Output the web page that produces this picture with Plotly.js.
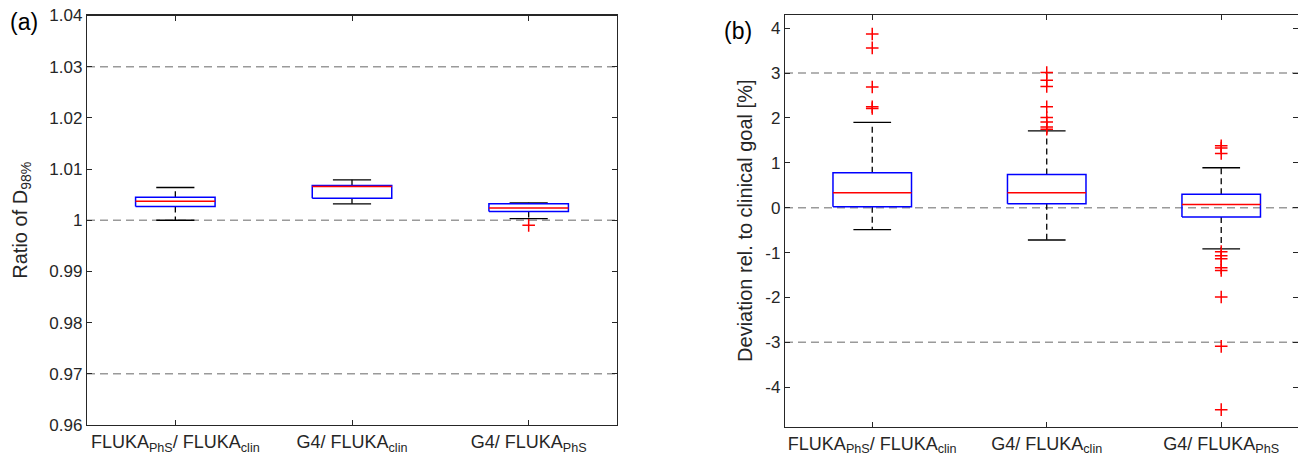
<!DOCTYPE html>
<html>
<head>
<meta charset="utf-8">
<script src="https://cdn.plot.ly/plotly-3.0.1.min.js"></script>
<style>html,body{margin:0;padding:0;background:#fff;}#chart{width:1298px;height:463px;}</style>
</head>
<body>
<div id="chart"></div>
<script>
// ---- data ----
var categories = ['FLUKA<sub>PhS</sub>/ FLUKA<sub>clin</sub>', 'G4/ FLUKA<sub>clin</sub>', 'G4/ FLUKA<sub>PhS</sub>'];
var catPos = [1, 2, 3];

// panel (a): ratio of D98%
var aQ1  = [1.0027, 1.0043, 1.0017];
var aMed = [1.0037, 1.0066, 1.0024];
var aQ3  = [1.0045, 1.0068, 1.0032];
var aLo  = [1.0000, 1.0032, 1.0003];
var aHi  = [1.0064, 1.0079, 1.0034];
var aOut = [[], [], [0.9990]];
var aRefLines = [0.97, 1.00, 1.03];
var aTickVals = [0.96, 0.97, 0.98, 0.99, 1.00, 1.01, 1.02, 1.03, 1.04];
var aTickText = ['0.96', '0.97', '0.98', '0.99', '1', '1.01', '1.02', '1.03', '1.04'];

// panel (b): deviation rel. to clinical goal [%]
var bQ1  = [0.02, 0.09, -0.21];
var bMed = [0.33, 0.33, 0.07];
var bQ3  = [0.78, 0.74, 0.30];
var bLo  = [-0.49, -0.72, -0.92];
var bHi  = [1.90, 1.71, 0.89];
var bOut = [
  [3.87, 3.56, 2.69, 2.25, 2.21],
  [3.01, 2.84, 2.70, 2.25, 2.01, 1.91, 1.80, 1.75],
  [1.38, 1.33, 1.21, -0.98, -1.07, -1.14, -1.34, -1.40, -1.99, -3.09, -4.50]
];
var bRefLines = [-3, 0, 3];
var bTickVals = [-4, -3, -2, -1, 0, 1, 2, 3, 4];
var bTickText = ['-4', '-3', '-2', '-1', '0', '1', '2', '3', '4'];

// ---- styling ----
var BOX_HALF = 0.225, CAP_HALF = 0.108;
var axisColor = '#262626';
var fontFam = '"Liberation Sans", Arial, sans-serif';

function boxTraces(q1, med, q3, lo, hi, outs, xa, ya) {
  var wx = [], wy = [], cx = [], cy = [], bx = [], by = [], mx = [], my = [], ox = [], oy = [];
  for (var i = 0; i < catPos.length; i++) {
    var p = catPos[i];
    wx.push(p, p, null, p, p, null); wy.push(q3[i], hi[i], null, q1[i], lo[i], null);
    cx.push(p - CAP_HALF, p + CAP_HALF, null, p - CAP_HALF, p + CAP_HALF, null);
    cy.push(hi[i], hi[i], null, lo[i], lo[i], null);
    bx.push(p - BOX_HALF, p + BOX_HALF, p + BOX_HALF, p - BOX_HALF, p - BOX_HALF, null);
    by.push(q1[i], q1[i], q3[i], q3[i], q1[i], null);
    mx.push(p - BOX_HALF, p + BOX_HALF, null); my.push(med[i], med[i], null);
    for (var j = 0; j < outs[i].length; j++) { ox.push(p); oy.push(outs[i][j]); }
  }
  var common = {xaxis: xa, yaxis: ya, hoverinfo: 'skip', showlegend: false};
  return [
    Object.assign({type: 'scatter', mode: 'lines', x: wx, y: wy, line: {color: '#000', width: 1.3, dash: '6px,4px'}}, common),
    Object.assign({type: 'scatter', mode: 'lines', x: cx, y: cy, line: {color: '#000', width: 1.3}}, common),
    Object.assign({type: 'scatter', mode: 'lines', x: bx, y: by, line: {color: '#0000ff', width: 1.5}}, common),
    Object.assign({type: 'scatter', mode: 'lines', x: mx, y: my, line: {color: '#ff0000', width: 1.5}}, common),
    Object.assign({type: 'scatter', mode: 'markers', x: ox, y: oy,
      marker: {symbol: 'cross-thin', size: 9, color: '#ff0000', line: {color: '#ff0000', width: 1.5}}}, common)
  ];
}

function refTraces(vals, xa, ya, xr) {
  var x = [], y = [];
  for (var i = 0; i < vals.length; i++) { x.push(xr[0], xr[1], null); y.push(vals[i], vals[i], null); }
  return [{type: 'scatter', mode: 'lines', x: x, y: y, xaxis: xa, yaxis: ya, hoverinfo: 'skip', showlegend: false,
    line: {color: '#9a9a9a', width: 1.5, dash: '8px,5px'}}];
}

var xRangeA = [0.5, 3.5];
var xRangeB = [0.5, 3.44];

var data = []
  .concat(refTraces(aRefLines, 'x', 'y', xRangeA))
  .concat(boxTraces(aQ1, aMed, aQ3, aLo, aHi, aOut, 'x', 'y'))
  .concat(refTraces(bRefLines, 'x2', 'y2', xRangeB))
  .concat(boxTraces(bQ1, bMed, bQ3, bLo, bHi, bOut, 'x2', 'y2'));

var baseAxis = {
  showgrid: false, zeroline: false, showline: true, linecolor: axisColor, linewidth: 1.2,
  mirror: 'ticks', ticks: 'inside', ticklen: 5, tickwidth: 1, tickcolor: axisColor,
  tickfont: {family: fontFam, size: 17, color: axisColor}, fixedrange: true
};
var xTickFont = {family: fontFam, size: 18, color: axisColor};
var yTitleFont = {family: fontFam, size: 20, color: axisColor};

var W = 1298, H = 463;
var layout = {
  width: W, height: H,
  margin: {l: 0, r: 0, t: 0, b: 0},
  paper_bgcolor: '#fff', plot_bgcolor: 'rgba(0,0,0,0)',
  font: {family: fontFam, color: axisColor},
  xaxis: Object.assign({}, baseAxis, {domain: [87 / W, 617 / W], range: xRangeA, tickvals: catPos, ticktext: categories, anchor: 'y', tickfont: xTickFont}),
  yaxis: Object.assign({}, baseAxis, {domain: [1 - 425 / H, 1 - 15.5 / H], range: [0.96, 1.04], tickvals: aTickVals, ticktext: aTickText, anchor: 'x',
    title: {text: 'Ratio of D<sub>98%</sub>', font: yTitleFont, standoff: 16}}),
  xaxis2: Object.assign({}, baseAxis, {domain: [785 / W, 1], range: xRangeB, tickvals: catPos, ticktext: categories, anchor: 'y2', tickfont: xTickFont}),
  yaxis2: Object.assign({}, baseAxis, {domain: [1 - 426.7 / H, 1 - 14.7 / H], range: [-4.88, 4.3], tickvals: bTickVals, ticktext: bTickText, anchor: 'x2',
    title: {text: 'Deviation rel. to clinical goal [%]', font: yTitleFont, standoff: 7}}),
  annotations: [
    {text: '(a)', xref: 'paper', yref: 'paper', x: 8 / W, y: 1 - 22 / H, xanchor: 'left', yanchor: 'middle', showarrow: false,
      font: {family: fontFam, size: 23, color: '#000'}},
    {text: '(b)', xref: 'paper', yref: 'paper', x: 722 / W, y: 1 - 31 / H, xanchor: 'left', yanchor: 'middle', showarrow: false,
      font: {family: fontFam, size: 23, color: '#000'}}
  ]
};

Plotly.newPlot('chart', data, layout, {displayModeBar: false, staticPlot: true});
</script>
</body>
</html>
